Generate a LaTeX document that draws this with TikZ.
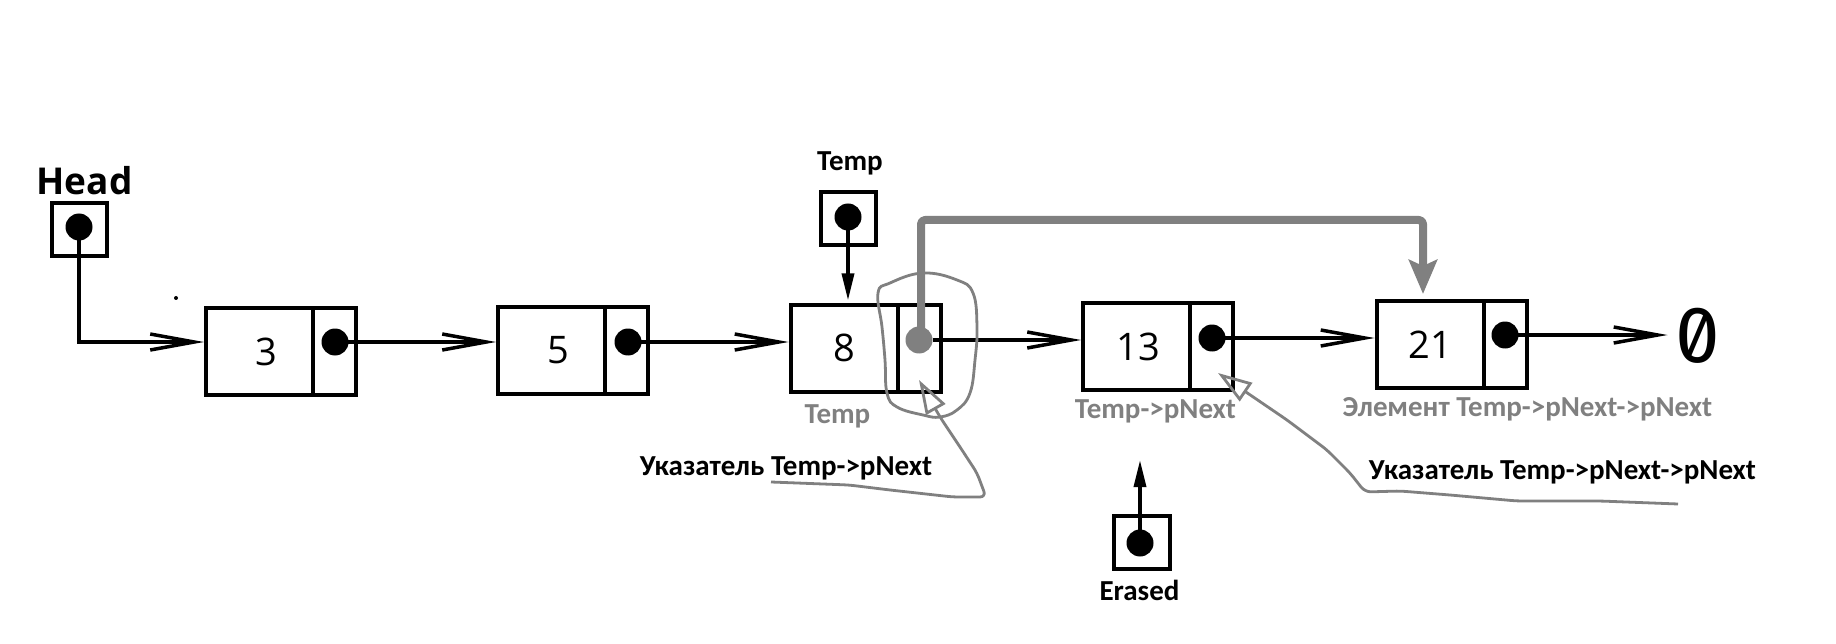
\documentclass[tikz,border=0pt]{standalone}
\usepackage{fontspec}
\setmainfont{Open Sans}
\newfontfamily\labfont{Carlito}
\newfontfamily\numfont{Open Sans}
\newfontfamily\zerofont[RawFeature=+zero]{Fira Sans}
\usetikzlibrary{arrows.meta}
\definecolor{pgrey}{RGB}{128,128,128}
\tikzset{
 cell/.style={draw, line width=4pt, rectangle, inner sep=0pt, outer sep=0pt, minimum width=107pt, minimum height=87pt, font=\numfont\fontsize{38}{40}\selectfont},
 pcell/.style={draw, line width=4pt, rectangle, inner sep=0pt, outer sep=0pt, minimum width=43pt, minimum height=87pt, anchor=west},
 ptrbox/.style={draw, line width=4pt, rectangle, inner sep=0pt, outer sep=0pt, minimum width=55pt, minimum height=53pt},
 bdot/.style={circle, fill=black, inner sep=0pt, outer sep=0pt, minimum size=27pt},
 gdot/.style={bdot, fill=pgrey},
 conn/.style={line width=3.5pt, -{Straight Barb[length=44pt,width=16pt]}},
 vconn/.style={line width=3.5pt, -{Triangle[length=27pt,width=12pt]}},
 bigg/.style={draw=pgrey, line width=8pt, line join=round, rounded corners=4pt, -{Stealth[length=34pt,width=28pt,inset=6pt]}},
 gpointer/.style={draw=pgrey, line width=2.8pt, line join=round, rounded corners=6pt, -{Triangle[open,length=34pt,width=22pt]}},
 blab/.style={font=\labfont\bfseries\fontsize{29}{34}\selectfont, inner sep=0pt, anchor=base},
 glab/.style={blab, text=pgrey},
}
\begin{document}
\begin{tikzpicture}[x=1pt,y=-1pt]
\useasboundingbox[fill=white] (0,0) rectangle (1836,644);

% list cells
\node[cell] (n3) at (259.5,351.5) {\hspace{13pt}3};
\node[pcell] (p3) at (n3.east) {};
\node[cell] (n5) at (551.5,350.5) {\hspace{14pt}5};
\node[pcell] (p5) at (n5.east) {};
\node[cell] (n8) at (844,348) {8\hspace{10pt}};
\node[pcell] (p8) at (n8.east) {};
\node[cell] (n13) at (1136.5,346.5) {\hspace{3pt}13};
\node[pcell] (p13) at (n13.east) {};
\node[cell] (n21) at (1430,344.5) {21};
\node[pcell] (p21) at (n21.east) {};

% pointer boxes
\node[ptrbox] (hb) at (79.5,229.5) {};
\node[ptrbox] (tb) at (848.5,218.5) {};
\node[ptrbox, minimum width=56pt] (eb) at (1142,542.5) {};

% dots
\node[bdot] (hd) at (79,227) {};
\node[bdot] (td) at (848,217) {};
\node[bdot] (ed) at (1140,543) {};
\node[bdot] (d3) at (335,342) {};
\node[bdot] (d5) at (628,342) {};
\node[gdot] (d8) at (919,340) {};
\node[bdot] (d13) at (1212,338) {};
\node[bdot] (d21) at (1505,335) {};

% zero
\node[font=\zerofont\fontsize{80}{84}\selectfont, inner sep=0pt, anchor=base] (z) at (1698,362) {0};

% labels
\node[font=\numfont\bfseries\fontsize{37}{40}\selectfont, inner sep=0pt, anchor=base] (headl) at (84.5,195) {Head};
\node[blab] (templ) at (850,171) {Temp};
\node[glab] (tempg) at (837.5,423) {Temp};
\node[glab] (tpn) at (1155.5,418) {Temp->pNext};
\node[glab] (elem) at (1527.5,416) {Элемент Temp->pNext->pNext};
\node[blab] (ukl) at (786,475) {Указатель Temp->pNext};
\node[blab] (ukr) at (1562.5,479) {Указатель Temp->pNext->pNext};
\node[blab] (erl) at (1139.5,600) {Erased};

% connectors
\draw[conn] (hd.center) |- ([xshift=-2pt]n3.west |- d3);
\draw[conn] (d3.center) -- ([xshift=-2pt]n5.west |- d3);
\draw[conn] (d5.center) -- ([xshift=-2pt]n8.west |- d5);
\draw[conn] (d8.east) -- ([xshift=-2pt]n13.west |- d8);
\draw[conn] (d13.center) -- ([xshift=-2pt]n21.west |- d13);
\draw[conn] (d21.center) -- ([xshift=-8pt]z.west |- d21);
\draw[vconn] (td.center) -- ([yshift=4pt]n8.north -| td);
\coordinate (et) at (1140,460);
\draw[vconn] (ed.center) -- (et);

% grey bypass arrow
\coordinate (g0) at (921,336);
\coordinate (g1) at (921,220);
\coordinate (g2) at (1423,220);
\draw[bigg] (g0) -- (g1) -- (g2) -- ([yshift=7pt]n21.north -| g2);

% grey loop around the pointer cell of 8
\draw[pgrey, line width=2.8pt] plot[smooth cycle, tension=0.7] coordinates {(923,273) (957,280) (973,293) (977,327) (975,360) (970,393) (957,410) (940,417) (923,415) (897,407) (887,393) (885,360) (882,327) (878,293) (890,283)};

% hand-drawn pointers from the labels
\coordinate (lu) at (771,482);
\coordinate (lt) at (919,380);
\draw[gpointer] (lu) -- (849,485) -- (890,490) -- (953,497) -- (986,497) -- (977,473) -- (960,447) -- (940,417) -- (lt);
\coordinate (ru) at (1678,504);
\coordinate (rt) at (1218,373);
\draw[gpointer] (ru) -- (1600,501) -- (1517,501) -- (1450,495) -- (1400,491) -- (1365,492) -- (1350,473) -- (1327,450) -- (1287,420) -- (rt);

% stray dot
\fill (176,298) circle (2pt);
\end{tikzpicture}
\end{document}
